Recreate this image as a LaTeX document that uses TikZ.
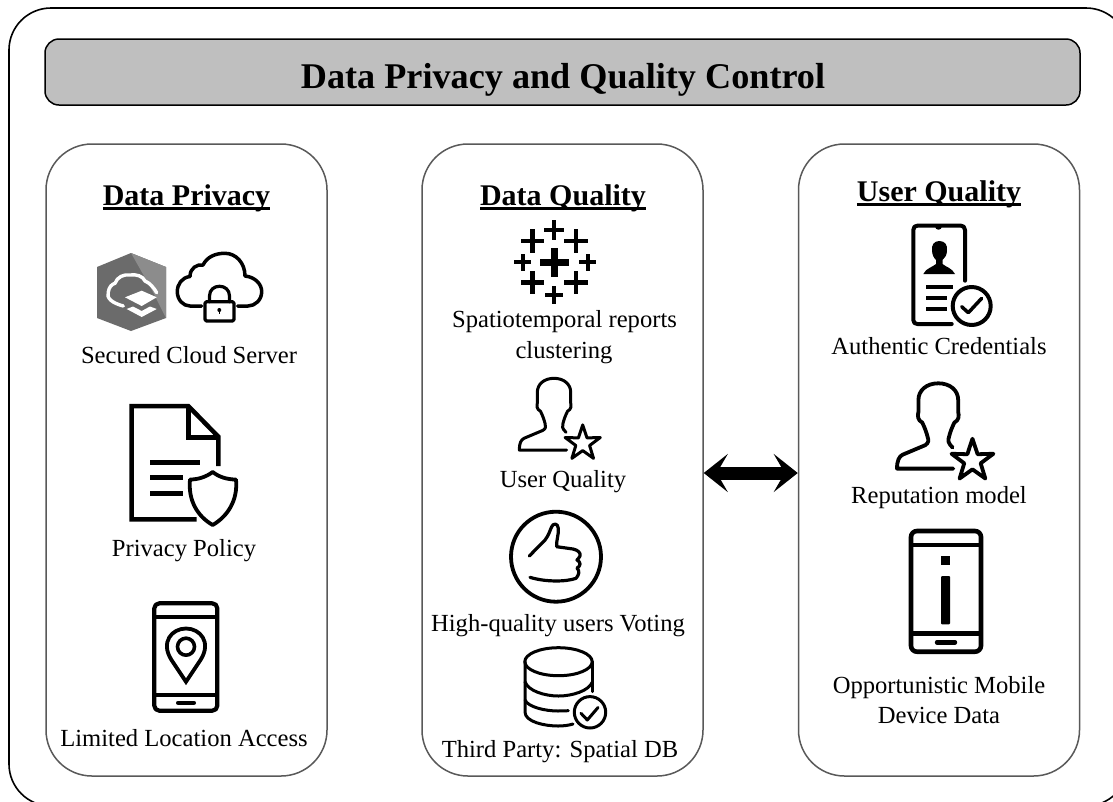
\documentclass[tikz,border=0pt]{standalone}
\usepackage{fontspec}
\setmainfont{Liberation Serif}
\usetikzlibrary{arrows.meta,shapes.geometric}
\newcommand\ulbox[1]{\setbox0\hbox{#1}\rlap{\rule[-4.5pt]{\wd0}{2.2pt}}\box0}
\tikzset{
  outerframe/.style={draw=black,line width=1.6pt,rounded corners=42pt,minimum width=1119pt,minimum height=798pt,inner sep=0pt},
  banner/.style={draw=black,line width=1.5pt,fill=black!25,rounded corners=14pt,minimum width=1035pt,minimum height=66pt,inner sep=0pt},
  panel/.style={draw=black!65,line width=1.5pt,rounded corners=46pt,minimum width=281pt,minimum height=632pt,inner sep=0pt},
  titletext/.style={anchor=base,font=\fontsize{36.2}{40}\selectfont\bfseries},
  headtext/.style={anchor=base,font=\fontsize{30}{34}\selectfont\bfseries},
  labeltext/.style={anchor=base,font=\fontsize{24.6}{28}\selectfont},
  ico/.style={draw=black,line width=#1,line join=round,line cap=round,fill=none},
  ico/.default=4pt,
  userstar/.pic={
    \path[pic actions,line join=round,line cap=round,fill=none]
      (12.6,71.7) -- (-34.7,71.7) .. controls (-34.7,65) and (-33,61.5) .. (-30,60)
      -- (-11,52) .. controls (-8,50) and (-8,48) .. (-9,45)
      .. controls (-10,41) and (-11.5,37) .. (-13.5,33) .. controls (-17.5,31) and (-17.5,27) .. (-16.7,24)
      -- (-16.7,14) .. controls (-16.7,6) and (-10,0) .. (0,0)
      .. controls (10,0) and (16.7,6) .. (16.7,14) -- (16.7,24) .. controls (17.5,27) and (17.5,31) .. (13.5,33)
      .. controls (11.5,37) and (10,41) .. (9,45) .. controls (8,48) and (8,50) .. (12,54);
    \path[pic actions,line join=round,fill=none]
      (28.7,46.6) -- (33,59.6) -- (46.3,59.2) -- (35.6,67.2) -- (39.5,80)
      -- (28.7,72.3) -- (17.9,80) -- (21.8,67.2) -- (11.1,59.2) -- (24.4,59.6) -- cycle;
  },
}
\begin{document}
\begin{tikzpicture}[x=1pt,y=-1pt]
\useasboundingbox (0,0) rectangle (1113,801);
\clip (0,0) rectangle (1113,801);
\fill[white] (0,0) rectangle (1113,801);

\node[outerframe] (frame) at (568.5,407) {};
\node[banner] (ban) at (562.5,72) {};
\node[titletext] (title) at (563,88) {Data Privacy and Quality Control};
\node[panel] (left) at (186.5,460) {};
\node[panel] (mid) at (562.5,460) {};
\node[panel] (right) at (939,460) {};

\draw[line width=13pt,{Stealth[length=24pt,width=38pt,inset=11pt]}-{Stealth[length=24pt,width=38pt,inset=11pt]}]
  ([yshift=-13pt]mid.east) -- ([yshift=-13pt]right.west);

% headings
\node[headtext] (h1) at (186.5,205) {\ulbox{Data Privacy}};
\node[headtext] (h2) at (563,205) {\ulbox{Data Quality}};
\node[headtext] (h3) at (939,201) {\ulbox{User Quality}};

% labels
\node[labeltext] (l1) at (189,363.5) {Secured Cloud Server};
\node[labeltext] (l2) at (184,556) {Privacy Policy};
\node[labeltext] (l3) at (184,746.7) {Limited Location Access};
\node[labeltext] (m1a) at (564.5,327) {Spatiotemporal reports};
\node[labeltext] (m1b) at (564,358.5) {clustering};
\node[labeltext] (m2) at (563,487.5) {User Quality};
\node[labeltext] (m3) at (558,631) {High-quality users Voting};
\node[labeltext] (m4) at (560,757.5) {Third Party: Spatial DB};
\node[labeltext] (r1) at (939,354) {Authentic Credentials};
\node[labeltext] (r2) at (939,503.5) {Reputation model};
\node[labeltext] (r3a) at (939,693) {Opportunistic Mobile};
\node[labeltext] (r3b) at (939,723.5) {Device Data};

% hexagon icon
\fill[black!58] (131,253) -- (166,267) -- (166,318) -- (131,331) -- (97,318) -- (97,267) -- cycle;
\fill[black!45] (131,253) -- (166,267) -- (166,318) -- (152,290) -- cycle;
\draw[white,line width=3.4pt,line cap=round,line join=round] (123.3,306) .. controls (112,303) and (106,298) .. (108.3,292) .. controls (109,287) and (112,284) .. (115,283.3) .. controls (117,277) and (124,274) .. (130,275) .. controls (136,274) and (143,276) .. (145,281) .. controls (150,283) and (154,288) .. (156.7,292.7);
\fill[white] (125,297.3) -- (141.7,290.7) -- (156.7,297.3) -- (141.7,306) -- cycle;
\fill[white] (126.7,309) -- (133,306.5) -- (141.7,311) -- (150,306.5) -- (156.7,309) -- (141.7,317) -- cycle;

% cloud and lock
\draw[ico=3.5pt] (201.7,306) -- (190,306) .. controls (183,306) and (177.3,299.7) .. (177.3,291.7)
  .. controls (177.3,284) and (182,277.5) .. (190,276.5)
  .. controls (190,268) and (197,264) .. (203,265)
  .. controls (207,257) and (215,253.3) .. (225,253.3)
  .. controls (236,253.3) and (245,263) .. (245,276)
  .. controls (255,277) and (261.7,284) .. (261.7,291.7)
  .. controls (261.7,300) and (255,306) .. (248,306) -- (237.7,306);
\draw[ico=3.2pt,rounded corners=1.5pt] (205,301.7) rectangle (234,321);
\draw[ico=3.2pt] (209.5,301.7) -- (209.5,296) .. controls (209.5,283) and (229.5,283) .. (229.5,296) -- (229.5,301.7);
\fill[black] (219.3,310) circle (2pt);
\draw[black,line width=1.6pt] (219.3,310) -- (219.3,314);

% document and shield
\draw[ico=4.5pt,line cap=butt,line join=miter] (218.3,466) -- (218.3,436.7) -- (188.3,406) -- (131.7,406) -- (131.7,519.3) -- (196.7,519.3);
\draw[ico=4.5pt,line cap=butt,line join=miter] (188.3,406) -- (188.3,437.3) -- (218.3,437.3);
\draw[ico=4.5pt,line cap=butt] (150,462.7) -- (200,462.7);
\draw[ico=4.5pt,line cap=butt] (150,477.7) -- (182.7,477.7);
\draw[ico=4.5pt,line cap=butt] (150,493.3) -- (182.7,493.3);
\draw[ico=3.8pt,fill=white] (212.7,472) .. controls (206,477) and (198,479.5) .. (190,479.5)
  .. controls (188,500) and (197,516) .. (212.7,525)
  .. controls (228,516) and (238,500) .. (236,479.5)
  .. controls (227,479.5) and (219,477) .. (212.7,472) -- cycle;

% phone with pin
\draw[ico=4.2pt,rounded corners=5pt] (154.3,603.3) rectangle (217.3,710.7);
\draw[ico=4.2pt,line cap=butt] (154.3,616.7) -- (217.3,616.7);
\draw[ico=4.2pt,line cap=butt] (154.3,695) -- (217.3,695);
\draw[ico=4pt] (178,702.7) -- (194,702.7);
\draw[ico=3.8pt,line join=miter] (186,681.7) -- (171.5,660) .. controls (160,642) and (172,628.5) .. (186,628.5)
  .. controls (200,628.5) and (212,642) .. (200.5,660) -- cycle;
\draw[ico=3.6pt] (186,646.7) circle (8.5pt);

% tableau crosses
\foreach \cx/\cy/\arm/\wd in {554.3/262.3/14.7/7.5,554.3/230/10/4,532.7/241/11.7/4.8,576/241/11.7/4.8,522.7/262.3/8.7/4,587.7/262.3/8.7/4,532.7/282.3/11.7/4.8,576/282.3/11.7/4.8,554.3/295/9/4}{
  \fill[black] (\cx-\arm,\cy-\wd/2) rectangle (\cx+\arm,\cy+\wd/2);
  \fill[black] (\cx-\wd/2,\cy-\arm) rectangle (\cx+\wd/2,\cy+\arm);
}

% users with star
\pic[draw=black,line width=3pt] at (554,378.3) {userstar};
\pic[draw=black,line width=3.8pt,scale=1.19] at (938.3,383.3) {userstar};

% thumbs up
\draw[ico=3.8pt] (556,556.7) circle (45pt);
\draw[ico=3.2pt] (529.3,556) -- (545,540) .. controls (549,535) and (550,530) .. (551.7,526.7)
  .. controls (553,523) and (558,523) .. (558.3,528.3) .. controls (559,534) and (556,541) .. (556.7,546.7)
  -- (573,549) .. controls (578,550) and (581,553) .. (580,556) .. controls (579,558) and (578,559) .. (577,560)
  .. controls (581,562) and (581,566) .. (577,568) .. controls (580,571) and (579,575) .. (576,578.3)
  .. controls (566,582) and (545,582) .. (530,577.3);

% database with check
\draw[ico=3pt] (558.5,661.7) ellipse (33.7pt and 14pt);
\draw[ico=3pt] (525,661.7) -- (525,712) .. controls (525,722) and (545,726) .. (558,726) .. controls (563,726) and (568,725.5) .. (573,724);
\draw[ico=3pt] (592.5,661.7) -- (592.5,691.5);
\draw[ico=3pt] (525,681.7) .. controls (528,691) and (545,696) .. (558.5,696) .. controls (572,696) and (589,691) .. (592.5,681.7);
\draw[ico=3pt] (525,700) .. controls (528,707) and (545,711) .. (558,711) -- (568.3,710.7);
\draw[ico=3pt] (590,712.3) circle (15.7pt);
\draw[ico=3pt] (581,713.3) -- (587.3,720) -- (598,707.5);

% credential phone
\draw[ico=4pt] (965,280.7) -- (965,230) .. controls (965,227) and (963,225.7) .. (961,225.7) -- (917.3,225.7) .. controls (915,225.7) and (913.3,227) .. (913.3,230)
  -- (913.3,320) .. controls (913.3,322.5) and (915,324) .. (917.3,324) -- (951.7,324);
\fill[black] (935,226) .. controls (935,231) and (941.5,231) .. (941.5,226) -- cycle;
\fill[black] (939.3,241) .. controls (934,241) and (931.5,245) .. (932,250) .. controls (932,255) and (934,258) .. (936,260) -- (936,264)
  .. controls (933,267) and (926,268) .. (923.3,274) -- (955,274) .. controls (952,268) and (946,267) .. (942.5,264) -- (942.5,260)
  .. controls (945,258) and (947,255) .. (947,250) .. controls (947.5,245) and (945,241) .. (939.3,241) -- cycle;
\draw[ico=4pt,line cap=butt] (926,287.3) -- (952.7,287.3);
\draw[ico=4pt,line cap=butt] (926,298.3) -- (947.3,298.3);
\draw[ico=4pt,line cap=butt] (926,308.7) -- (947.3,308.7);
\draw[ico=4pt] (971.7,306) circle (19pt);
\draw[ico=3.5pt] (961.7,306.7) -- (968.3,312.7) -- (981.7,298.3);

% info phone
\draw[ico=4.6pt,rounded corners=6pt] (911,531) rectangle (981,651.7);
\draw[ico=4.6pt,line cap=butt] (911,545) -- (981,545);
\draw[ico=4.6pt,line cap=butt] (911,633.3) -- (981,633.3);
\draw[ico=4.4pt] (937,642.3) -- (955,642.3);
\fill[black] (941,556) rectangle (950,565);
\fill[black,rounded corners=1pt] (941,576) rectangle (950,624.3);
\end{tikzpicture}
\end{document}
